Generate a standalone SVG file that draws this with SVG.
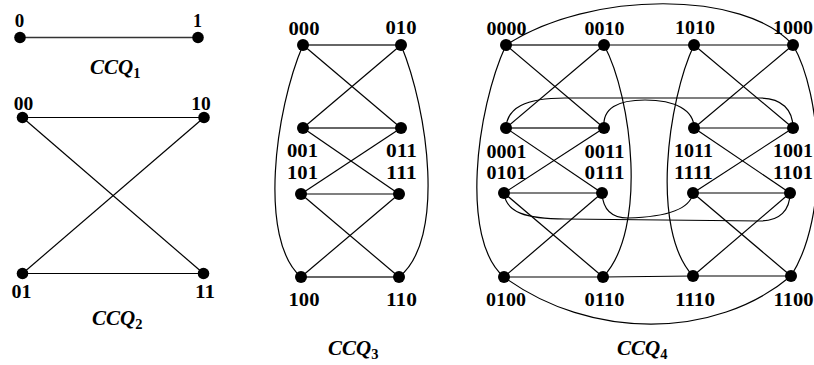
<svg xmlns="http://www.w3.org/2000/svg" width="814" height="365" viewBox="0 0 814 365">
<style>
.e{stroke:#000;stroke-width:1.2;fill:none}
.h{stroke:#333;stroke-width:1.7;fill:none}
.n{fill:#000}
.t{font-family:"Liberation Serif","Times New Roman",serif;font-weight:bold;font-size:19.5px;text-anchor:middle;fill:#000}
.c{font-family:"Liberation Serif","Times New Roman",serif;font-weight:bold;font-style:italic;font-size:21px;fill:#000}
.s{font-style:normal;font-size:14.5px}
</style>
<rect width="814" height="365" fill="#fff"/>
<g id="connectors">
<line class="h" x1="20" y1="37.5" x2="198" y2="37.5"/>
<line class="e" x1="22.5" y1="117.5" x2="204" y2="117.5"/>
<line class="e" x1="22.5" y1="273.5" x2="203.5" y2="273.5"/>
<line class="e" x1="22.5" y1="117.5" x2="203.5" y2="273.5"/>
<line class="e" x1="204" y1="117.5" x2="22.5" y2="273.5"/>
<line class="h" x1="303" y1="45" x2="401" y2="45"/>
<line class="e" x1="303" y1="45" x2="401" y2="128"/>
<line class="e" x1="401" y1="45" x2="303" y2="128"/>
<line class="h" x1="303" y1="128" x2="401" y2="128"/>
<line class="e" x1="303" y1="128" x2="399" y2="194"/>
<line class="e" x1="401" y1="128" x2="301" y2="194"/>
<line class="e" x1="301" y1="194" x2="399" y2="194"/>
<line class="e" x1="301" y1="194" x2="399" y2="277"/>
<line class="e" x1="399" y1="194" x2="301" y2="277"/>
<line class="h" x1="301" y1="277" x2="399" y2="277"/>
<path class="e" d="M303,45 C275,110 258,240 301,277"/>
<path class="e" d="M401,45 C428,110 446,240 399,277"/>
<line class="h" x1="506" y1="45" x2="604" y2="45"/>
<line class="e" x1="604" y1="45" x2="694" y2="45"/>
<line class="e" x1="694" y1="45" x2="793" y2="45"/>
<line class="e" x1="506" y1="45" x2="604" y2="128"/>
<line class="e" x1="604" y1="45" x2="506" y2="128"/>
<line class="e" x1="694" y1="45" x2="793" y2="128"/>
<line class="e" x1="793" y1="45" x2="694" y2="128"/>
<line class="h" x1="506" y1="128" x2="604" y2="128"/>
<line class="e" x1="694" y1="128" x2="793" y2="128"/>
<line class="e" x1="506" y1="128" x2="602" y2="193"/>
<line class="e" x1="604" y1="128" x2="504" y2="193"/>
<line class="e" x1="694" y1="128" x2="790" y2="193"/>
<line class="e" x1="793" y1="128" x2="693" y2="193"/>
<line class="e" x1="504" y1="193" x2="602" y2="193"/>
<line class="e" x1="693" y1="193" x2="790" y2="193"/>
<line class="e" x1="504" y1="193" x2="603" y2="277"/>
<line class="e" x1="602" y1="193" x2="504" y2="277"/>
<line class="e" x1="693" y1="193" x2="791" y2="276"/>
<line class="e" x1="790" y1="193" x2="693" y2="276"/>
<line class="e" x1="504" y1="277" x2="603" y2="277"/>
<line class="e" x1="603" y1="277" x2="693" y2="276"/>
<line class="e" x1="693" y1="276" x2="791" y2="276"/>
<path class="e" d="M506,45 C476,110 460,240 504,277"/>
<path class="e" d="M604,45 C632,97 648,230 603,277"/>
<path class="e" d="M694,45 C668,100 650,230 693,276"/>
<path class="e" d="M793,45 C822,95 830,215 791,276"/>
<path class="e" d="M506,45 C590,-10 745,-10 793,45"/>
<path class="e" d="M504,277 C590,340 715,340 791,276"/>
<path class="e" d="M506,128 C507,108 525,98 565,98 L760,98 C782,98 793,110 793,128"/>
<path class="e" d="M604,128 C602,108 618,100 645,100 C675,100 694,110 694,128"/>
<path class="e" d="M504,193 C506,212 525,219 565,219 L760,221 C780,221 790,210 790,193"/>
<path class="e" d="M602,193 C603,210 612,218 628,218 C665,217 690,210 693,193"/>
</g>
<g id="q1-0"><circle class="n" cx="20" cy="37.5" r="5.8"/><text class="t" x="19.5" y="27" textLength="9.5" lengthAdjust="spacingAndGlyphs">0</text></g>
<g id="q1-1"><circle class="n" cx="198" cy="37.5" r="5.8"/><text class="t" x="197.5" y="27" textLength="9" lengthAdjust="spacingAndGlyphs">1</text></g>
<g id="q2-00"><circle class="n" cx="22.5" cy="117.5" r="5.8"/><text class="t" x="23.5" y="110" textLength="19.5" lengthAdjust="spacingAndGlyphs">00</text></g>
<g id="q2-10"><circle class="n" cx="204" cy="117.5" r="5.8"/><text class="t" x="201" y="110" textLength="19.5" lengthAdjust="spacingAndGlyphs">10</text></g>
<g id="q2-01"><circle class="n" cx="22.5" cy="273.5" r="5.8"/><text class="t" x="21.5" y="298" textLength="20" lengthAdjust="spacingAndGlyphs">01</text></g>
<g id="q2-11"><circle class="n" cx="203.5" cy="273.5" r="5.8"/><text class="t" x="205" y="298" textLength="20" lengthAdjust="spacingAndGlyphs">11</text></g>
<g id="q3-000"><circle class="n" cx="303" cy="45" r="6"/><text class="t" x="304" y="35" textLength="31" lengthAdjust="spacingAndGlyphs">000</text></g>
<g id="q3-010"><circle class="n" cx="401" cy="45" r="6"/><text class="t" x="401" y="34" textLength="31" lengthAdjust="spacingAndGlyphs">010</text></g>
<g id="q3-001"><circle class="n" cx="303" cy="128" r="6"/><text class="t" x="302.5" y="157" textLength="31" lengthAdjust="spacingAndGlyphs">001</text></g>
<g id="q3-011"><circle class="n" cx="401" cy="128" r="6"/><text class="t" x="401.5" y="157" textLength="31" lengthAdjust="spacingAndGlyphs">011</text></g>
<g id="q3-101"><circle class="n" cx="301" cy="194" r="6"/><text class="t" x="302.5" y="179" textLength="31" lengthAdjust="spacingAndGlyphs">101</text></g>
<g id="q3-111"><circle class="n" cx="399" cy="194" r="6"/><text class="t" x="401.5" y="179" textLength="31" lengthAdjust="spacingAndGlyphs">111</text></g>
<g id="q3-100"><circle class="n" cx="301" cy="277" r="6"/><text class="t" x="304" y="306" textLength="31" lengthAdjust="spacingAndGlyphs">100</text></g>
<g id="q3-110"><circle class="n" cx="399" cy="277" r="6"/><text class="t" x="401.5" y="306" textLength="31" lengthAdjust="spacingAndGlyphs">110</text></g>
<g id="q4-0000"><circle class="n" cx="506" cy="45" r="6"/><text class="t" x="506.5" y="35" textLength="40" lengthAdjust="spacingAndGlyphs">0000</text></g>
<g id="q4-0010"><circle class="n" cx="604" cy="45" r="6"/><text class="t" x="604.5" y="34.5" textLength="40" lengthAdjust="spacingAndGlyphs">0010</text></g>
<g id="q4-1010"><circle class="n" cx="694" cy="45" r="6"/><text class="t" x="695" y="34" textLength="40" lengthAdjust="spacingAndGlyphs">1010</text></g>
<g id="q4-1000"><circle class="n" cx="793" cy="45" r="6"/><text class="t" x="793" y="34" textLength="40" lengthAdjust="spacingAndGlyphs">1000</text></g>
<g id="q4-0001"><circle class="n" cx="506" cy="128" r="6"/><text class="t" x="506.5" y="157.5" textLength="40" lengthAdjust="spacingAndGlyphs">0001</text></g>
<g id="q4-0011"><circle class="n" cx="604" cy="128" r="6"/><text class="t" x="604.5" y="157.5" textLength="40" lengthAdjust="spacingAndGlyphs">0011</text></g>
<g id="q4-1011"><circle class="n" cx="694" cy="128" r="6"/><text class="t" x="693.5" y="157" textLength="39" lengthAdjust="spacingAndGlyphs">1011</text></g>
<g id="q4-1001"><circle class="n" cx="793" cy="128" r="6"/><text class="t" x="793" y="157" textLength="40" lengthAdjust="spacingAndGlyphs">1001</text></g>
<g id="q4-0101"><circle class="n" cx="504" cy="193" r="6"/><text class="t" x="506.5" y="179" textLength="40" lengthAdjust="spacingAndGlyphs">0101</text></g>
<g id="q4-0111"><circle class="n" cx="602" cy="193" r="6"/><text class="t" x="604.5" y="179" textLength="40" lengthAdjust="spacingAndGlyphs">0111</text></g>
<g id="q4-1111"><circle class="n" cx="693" cy="193" r="6"/><text class="t" x="693.5" y="179" textLength="39" lengthAdjust="spacingAndGlyphs">1111</text></g>
<g id="q4-1101"><circle class="n" cx="790" cy="193" r="6"/><text class="t" x="793" y="179" textLength="40" lengthAdjust="spacingAndGlyphs">1101</text></g>
<g id="q4-0100"><circle class="n" cx="504" cy="277" r="6"/><text class="t" x="506" y="306" textLength="40" lengthAdjust="spacingAndGlyphs">0100</text></g>
<g id="q4-0110"><circle class="n" cx="603" cy="277" r="6"/><text class="t" x="604.5" y="306" textLength="40" lengthAdjust="spacingAndGlyphs">0110</text></g>
<g id="q4-1110"><circle class="n" cx="693" cy="276" r="6"/><text class="t" x="695" y="306" textLength="40" lengthAdjust="spacingAndGlyphs">1110</text></g>
<g id="q4-1100"><circle class="n" cx="791" cy="276" r="6"/><text class="t" x="793.5" y="306" textLength="40" lengthAdjust="spacingAndGlyphs">1100</text></g>
<g id="captions">
<text class="c" x="90" y="74">CCQ<tspan class="s" dy="4">1</tspan></text>
<text class="c" x="92" y="325">CCQ<tspan class="s" dy="4">2</tspan></text>
<text class="c" x="328" y="355">CCQ<tspan class="s" dy="4">3</tspan></text>
<text class="c" x="617" y="355">CCQ<tspan class="s" dy="4">4</tspan></text>
</g>
</svg>
